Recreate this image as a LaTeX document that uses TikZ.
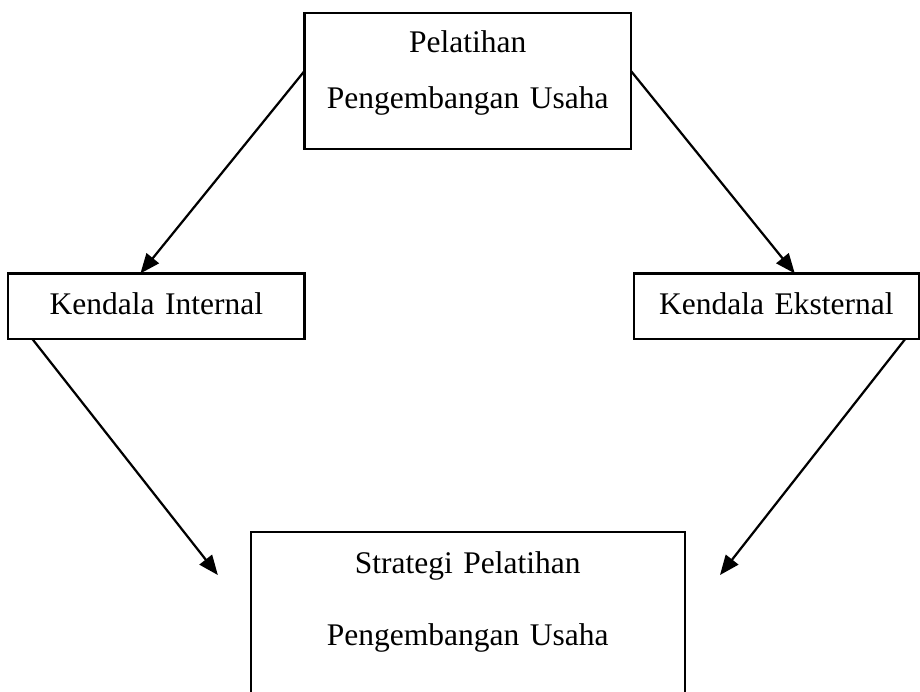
\documentclass[tikz,border=0pt]{standalone}
\usepackage{fontspec}
\setmainfont{Liberation Serif}
\usetikzlibrary{arrows.meta, positioning}

\begin{document}
\begin{tikzpicture}[
    box/.style={rectangle, draw=black, line width=0.8pt,
                inner sep=0pt, outer sep=0pt, align=center,
                font=\fontsize{12}{21}\selectfont},
    arrow/.style={-{Triangle[length=7.5pt, width=6pt]}, line width=0.85pt, draw=black}
]

% Bingkai gambar
\useasboundingbox (-178.2pt,30.8pt) rectangle (172.3pt,-232.5pt);

% Tingkat atas - Pelatihan
\node[box, text width=124.4pt, text height=15.35pt, text depth=36.6pt] (ptop) at (0,0) {Pelatihan\\Pengembangan Usaha};

% Tingkat tengah - Kendala
\node[box, text width=112.8pt, text height=15.8pt, text depth=9.26pt,
      below left=47.4pt and 0pt of ptop] (kint) {Kendala Internal};
\node[box, text width=108.6pt, text height=15.8pt, text depth=9.26pt,
      below right=47.4pt and 1.1pt of ptop] (keks) {Kendala Eksternal};

% Tingkat bawah - Strategi
\node[box, text width=165.4pt, text height=15.6pt, text depth=56pt,
      font=\fontsize{12}{27.4}\selectfont, below=146pt of ptop] (strat) {Strategi Pelatihan\\Pengembangan Usaha};

% Panah ke kendala
\draw[arrow] ([yshift=3.75pt]ptop.west) -- ([xshift=-6.1pt]kint.north);
\draw[arrow] ([yshift=3.75pt]ptop.east) -- ([xshift=7pt]keks.north);

% Panah ke strategi
\draw[arrow] ([xshift=-47.2pt]kint.south) -- ([xshift=-12.5pt,yshift=-16.3pt]strat.north west);
\draw[arrow] ([xshift=49pt]keks.south) -- ([xshift=13.4pt,yshift=-16.3pt]strat.north east);

\end{tikzpicture}
\end{document}
